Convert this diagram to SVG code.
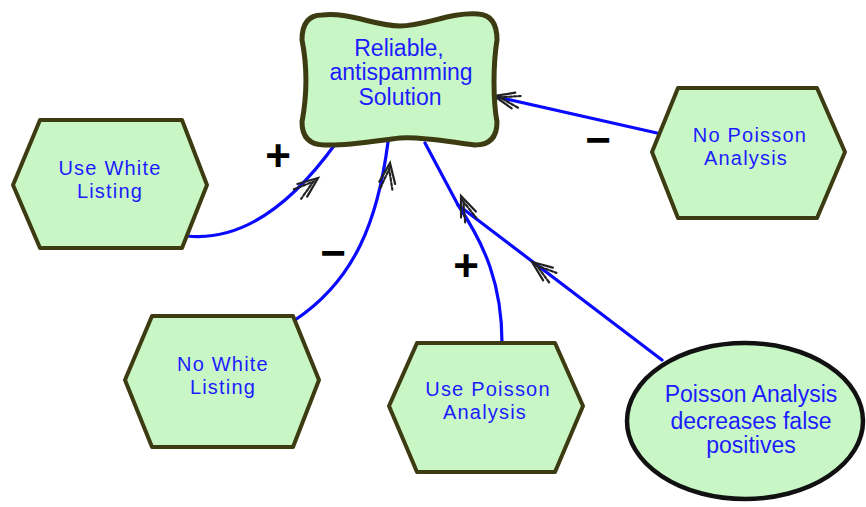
<svg xmlns="http://www.w3.org/2000/svg" width="866" height="507" viewBox="0 0 866 507">
  <style>
    .node { fill: #c8f7c5; stroke: #3d3b12; stroke-width: 4; stroke-linejoin: round; }
    .softgoal { stroke-width: 5; }
    .belief { fill: #c8f7c5; stroke: #111; stroke-width: 4.5; }
    .label { font-family: "Liberation Sans", Arial, sans-serif; font-size: 23px; fill: #1c1cff; text-anchor: middle; }
    .task { font-size: 20px; letter-spacing: 1.2px; }
    .link { fill: none; stroke: #0a0aff; stroke-width: 3.2; stroke-linecap: round; }
    .head { fill: none; stroke: #222; stroke-width: 2.2; stroke-linecap: round; }
    .sign { font-family: "Liberation Sans", Arial, sans-serif; font-size: 44px; font-weight: bold; fill: #000; text-anchor: middle; }
  </style>
  <defs>
    <!-- open double chevron arrowhead, tip at origin, pointing along +x -->
    <g id="arrowhead">
      <path class="head" d="M-20,-8 L0,0 L-20,8"/>
      <path class="head" d="M-26,-6 L-6,0 L-26,6" stroke-dasharray="3 2"/>
    </g>
  </defs>

  <rect width="866" height="507" fill="#fff"/>

  <g id="connectors">
    <path class="link" d="M187,236 C245,242 295,200 336,143"/>
    <path class="link" d="M295,320 C355,280 378,220 388,142"/>
    <path class="link" d="M502,343 C502,285 485,245 458,205"/>
    <path class="link" d="M662,360 L458,205 L425,143"/>
    <path class="link" d="M657,133 L493,96"/>
    <use href="#arrowhead" transform="translate(318,178) rotate(-38)"/>
    <use href="#arrowhead" transform="translate(390,163) rotate(-82)"/>
    <use href="#arrowhead" transform="translate(461,196) rotate(-112)"/>
    <use href="#arrowhead" transform="translate(532,262) rotate(-143)"/>
    <use href="#arrowhead" transform="translate(494,96) rotate(193)"/>
    <text class="sign" x="278" y="171">+</text>
    <text class="sign" x="333" y="268">−</text>
    <text class="sign" x="466" y="281">+</text>
    <text class="sign" x="598" y="155">−</text>
  </g>

  <g id="reliable-solution">
    <path class="node softgoal" d="M322,15 C350,12 375,26 400,26 C425,26 450,12 478,14 Q497,15 497,40 C493,65 493,100 497,122 Q497,145 475,145 C450,142 420,136 400,138 C380,140 350,146 325,145 Q302,145 302,122 C307,95 307,65 302,40 Q302,15 322,15 Z"/>
    <text class="label" x="399" y="56">Reliable,</text>
    <text class="label" x="401" y="80">antispamming</text>
    <text class="label" x="400" y="105">Solution</text>
  </g>

  <g id="use-white-listing">
    <polygon class="node" points="13,185 40,120 182,120 207,185 182,248 40,248"/>
    <text class="label task" x="110" y="175">Use White</text>
    <text class="label task" x="110" y="198">Listing</text>
  </g>

  <g id="no-white-listing">
    <polygon class="node" points="125,380 152,316 293,316 319,380 293,447 152,447"/>
    <text class="label task" x="223" y="371">No White</text>
    <text class="label task" x="223" y="394">Listing</text>
  </g>

  <g id="use-poisson-analysis">
    <polygon class="node" points="389,406 417,343 555,343 583,406 555,472 417,472"/>
    <text class="label task" x="488" y="396">Use Poisson</text>
    <text class="label task" x="485" y="419">Analysis</text>
  </g>

  <g id="no-poisson-analysis">
    <polygon class="node" points="652,152 678,88 817,88 845,152 817,218 678,218"/>
    <text class="label task" x="750" y="142">No Poisson</text>
    <text class="label task" x="746" y="165">Analysis</text>
  </g>

  <g id="poisson-false-positives">
    <ellipse class="belief" cx="745" cy="421" rx="118" ry="78"/>
    <text class="label" x="751" y="402">Poisson Analysis</text>
    <text class="label" x="751" y="429">decreases false</text>
    <text class="label" x="751" y="453">positives</text>
  </g>
</svg>
